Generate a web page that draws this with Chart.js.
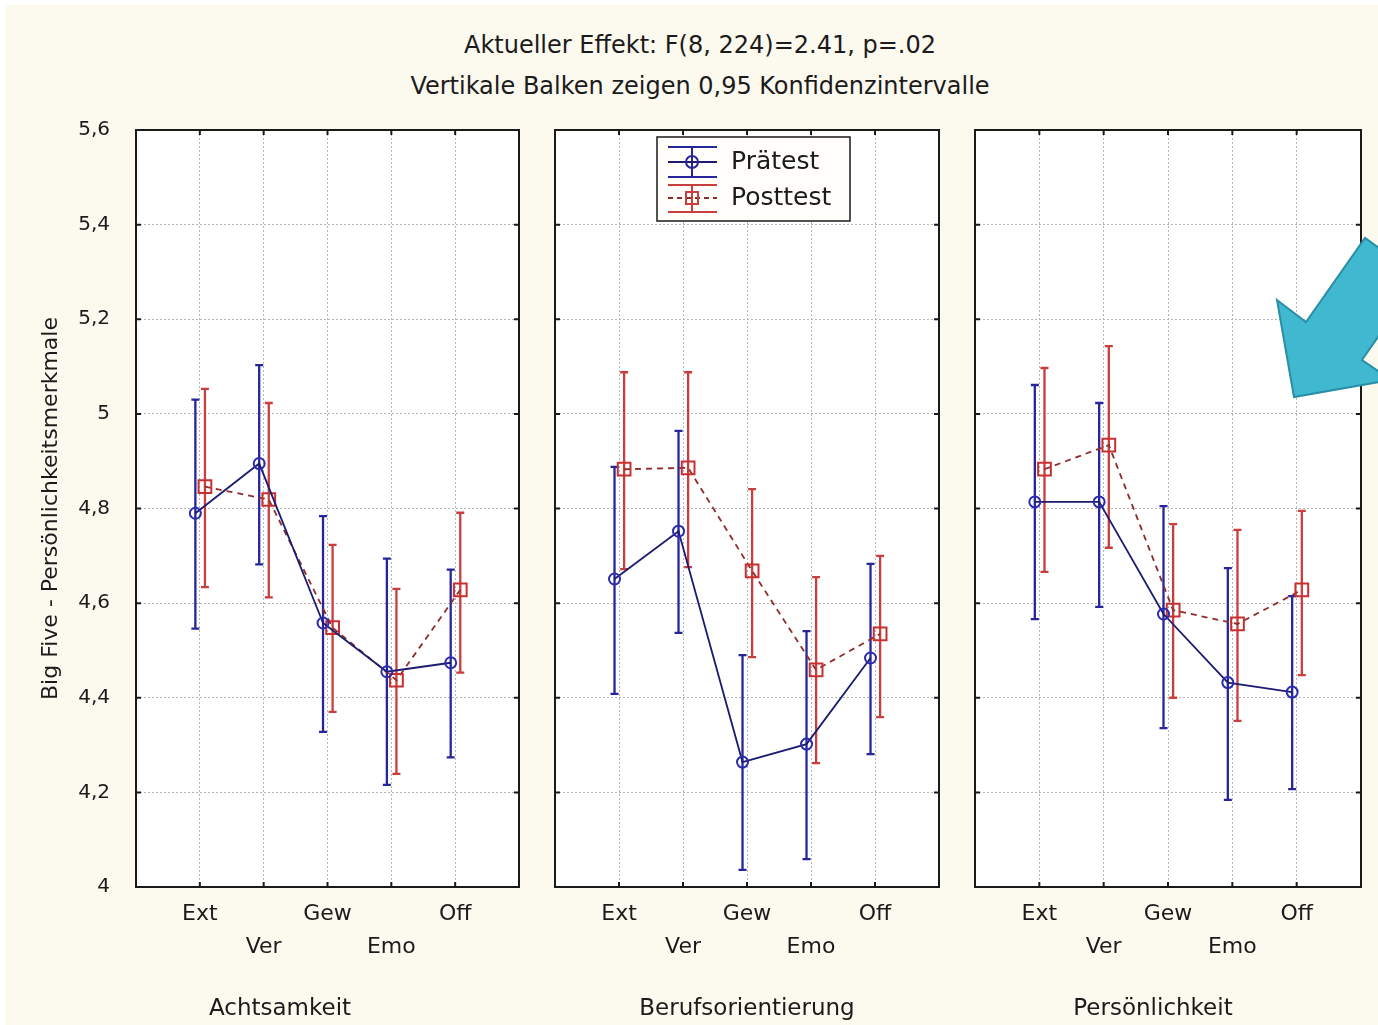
<!DOCTYPE html>
<html lang="de">
<head>
<meta charset="utf-8">
<title>Big Five - Persönlichkeitsmerkmale</title>
<script src="https://cdn.jsdelivr.net/npm/chart.js@4.4.1/dist/chart.umd.min.js"></script>
<style>
  html, body { margin: 0; padding: 0; }
  body {
    width: 1378px; height: 1025px; position: relative; overflow: hidden;
    background: #ffffff; font-family: "DejaVu Sans", sans-serif; color: #1b1b1b;
  }
  #paper { position: absolute; left: 5px; top: 5px; right: 0; bottom: 0; background: #fcf9ef; }
  canvas { position: absolute; top: 0; }
  .title { position: absolute; left: 0; width: 1400px; text-align: center; font-size: 24px; line-height: 30px; }
  .group { position: absolute; top: 992px; font-size: 23px; line-height: 30px; transform: translateX(-50%); white-space: nowrap; }
  #arrow { position: absolute; left: 0; top: 0; }
</style>
</head>
<body>
<div id="paper"></div>
<div class="title" style="top:30px">Aktueller Effekt: F(8, 224)=2.41, p=.02</div>
<div class="title" style="top:71px">Vertikale Balken zeigen 0,95 Konfidenzintervalle</div>

<canvas id="panel0" width="530" height="1025" style="left:0px"></canvas>
<canvas id="panel1" width="420" height="1025" style="left:530px"></canvas>
<canvas id="panel2" width="428" height="1025" style="left:950px"></canvas>

<div class="group" style="left:280px">Achtsamkeit</div>
<div class="group" style="left:747px">Berufsorientierung</div>
<div class="group" style="left:1153px">Persönlichkeit</div>

<svg id="arrow" width="1378" height="1025">
  <polygon points="1294,397 1277,300 1306,322 1365,238 1420,277 1362,360 1391,380"
           fill="#40b8d0" stroke="#2a8ea4" stroke-width="2" stroke-linejoin="miter"/>
</svg>

<script>
const categories = ["Ext", "Ver", "Gew", "Emo", "Off"];
const groups = ["Achtsamkeit", "Berufsorientierung", "Persönlichkeit"];
const seriesNames = ["Prätest", "Posttest"];

// Achtsamkeit
const preMean1 = [4.79, 4.895, 4.558, 4.455, 4.474];
const preLow1 = [4.546, 4.682, 4.328, 4.216, 4.274];
const preHigh1 = [5.03, 5.103, 4.784, 4.694, 4.671];
const postMean1 = [4.846, 4.819, 4.548, 4.437, 4.628];
const postLow1 = [4.634, 4.612, 4.37, 4.239, 4.453];
const postHigh1 = [5.053, 5.023, 4.723, 4.63, 4.791];

// Berufsorientierung
const preMean2 = [4.651, 4.752, 4.264, 4.302, 4.484];
const preLow2 = [4.408, 4.537, 4.036, 4.059, 4.281];
const preHigh2 = [4.888, 4.964, 4.49, 4.541, 4.683];
const postMean2 = [4.883, 4.886, 4.668, 4.459, 4.535];
const postLow2 = [4.672, 4.676, 4.486, 4.262, 4.359];
const postHigh2 = [5.088, 5.088, 4.841, 4.655, 4.7];

// Persönlichkeit
const preMean3 = [4.814, 4.814, 4.577, 4.432, 4.412];
const preLow3 = [4.566, 4.592, 4.336, 4.184, 4.207];
const preHigh3 = [5.061, 5.023, 4.805, 4.674, 4.615];
const postMean3 = [4.883, 4.934, 4.585, 4.556, 4.628];
const postLow3 = [4.666, 4.717, 4.4, 4.351, 4.448];
const postHigh3 = [5.097, 5.143, 4.767, 4.755, 4.795];

const yMin = 4;
const yMax = 5.6;
const yStep = 0.2;

const panels = [
  { pre: [preMean1, preLow1, preHigh1], post: [postMean1, postLow1, postHigh1] },
  { pre: [preMean2, preLow2, preHigh2], post: [postMean2, postLow2, postHigh2] },
  { pre: [preMean3, preLow3, preHigh3], post: [postMean3, postLow3, postHigh3] }
];

const FONT = "'DejaVu Sans', sans-serif";
const TEXT = "#1b1b1b";
const GRID = "#b5b5b5";
const PRE_BAR = "#26269a";
const PRE_LINE = "#1b1b72";
const POST_BAR = "#c93e3e";
const POST_LINE = "#8f2c2c";
const PRE_SHIFT = -0.07;
const POST_SHIFT = 0.08;

function fmt(v) {
  return String(Math.round(v * 10) / 10).replace(".", ",");
}

// white plot area, black frame and the small inner ticks
const frame = {
  id: "frame",
  beforeDraw(chart) {
    const a = chart.chartArea;
    const ctx = chart.ctx;
    ctx.save();
    ctx.fillStyle = "#ffffff";
    ctx.fillRect(a.left, a.top, a.right - a.left, a.bottom - a.top);
    ctx.restore();
  },
  afterDatasetsDraw(chart) {
    const a = chart.chartArea;
    const ctx = chart.ctx;
    const xs = chart.scales.x;
    const ys = chart.scales.y;
    ctx.save();
    ctx.strokeStyle = "#1a1a1a";
    ctx.lineWidth = 2;
    ctx.strokeRect(a.left, a.top, a.right - a.left, a.bottom - a.top);
    ctx.beginPath();
    xs.ticks.forEach((t) => {
      const x = xs.getPixelForValue(t.value);
      ctx.moveTo(x, a.top); ctx.lineTo(x, a.top + 5);
      ctx.moveTo(x, a.bottom); ctx.lineTo(x, a.bottom - 5);
    });
    ys.ticks.forEach((t) => {
      const y = ys.getPixelForValue(t.value);
      ctx.moveTo(a.left, y); ctx.lineTo(a.left + 5, y);
      ctx.moveTo(a.right, y); ctx.lineTo(a.right - 5, y);
    });
    ctx.stroke();
    ctx.restore();
  }
};

// vertical confidence bars
const errorBars = {
  id: "errorBars",
  beforeDatasetsDraw(chart) {
    const ctx = chart.ctx;
    const xs = chart.scales.x;
    const ys = chart.scales.y;
    chart.data.datasets.forEach((ds) => {
      ctx.save();
      ctx.strokeStyle = ds.barColor;
      ctx.lineWidth = 2.3;
      ctx.beginPath();
      ds.data.forEach((p, i) => {
        const x = xs.getPixelForValue(p.x);
        const y1 = ys.getPixelForValue(ds.low[i]);
        const y2 = ys.getPixelForValue(ds.high[i]);
        ctx.moveTo(x, y1); ctx.lineTo(x, y2);
        ctx.moveTo(x - 4, y1); ctx.lineTo(x + 4, y1);
        ctx.moveTo(x - 4, y2); ctx.lineTo(x + 4, y2);
      });
      ctx.stroke();
      ctx.restore();
    });
  }
};

// legend box inside the middle panel
const legendBox = {
  id: "legendBox",
  afterDraw(chart) {
    if (!chart.options.plugins.legendBox.show) return;
    const ctx = chart.ctx;
    const a = chart.chartArea;
    const bx = a.left + 102;
    const by = a.top + 7;
    const bw = 193;
    const bh = 84;
    ctx.save();
    ctx.fillStyle = "#fffefa";
    ctx.fillRect(bx, by, bw, bh);
    ctx.strokeStyle = "#1a1a1a";
    ctx.lineWidth = 1.5;
    ctx.strokeRect(bx, by, bw, bh);

    const rows = [
      { name: seriesNames[0], line: PRE_LINE, bar: PRE_BAR, top: 10, mid: 25, bottom: 40, dash: [], style: "circle" },
      { name: seriesNames[1], line: POST_LINE, bar: POST_BAR, top: 48, mid: 61, bottom: 75, dash: [5, 4], style: "rect" }
    ];
    const x0 = bx + 11;
    const x1 = bx + 60;
    const cx = bx + 35;
    rows.forEach((r) => {
      ctx.strokeStyle = r.bar;
      ctx.lineWidth = 2;
      ctx.setLineDash([]);
      ctx.beginPath();
      ctx.moveTo(x0, by + r.top); ctx.lineTo(x1, by + r.top);
      ctx.moveTo(x0, by + r.bottom); ctx.lineTo(x1, by + r.bottom);
      ctx.moveTo(cx, by + r.top); ctx.lineTo(cx, by + r.bottom);
      ctx.stroke();
      ctx.strokeStyle = r.line;
      ctx.lineWidth = 1.8;
      ctx.setLineDash(r.dash);
      ctx.beginPath();
      ctx.moveTo(x0, by + r.mid); ctx.lineTo(x1, by + r.mid);
      ctx.stroke();
      ctx.setLineDash([]);
      ctx.strokeStyle = r.bar;
      ctx.lineWidth = 2;
      ctx.beginPath();
      if (r.style === "circle") {
        ctx.arc(cx, by + r.mid, 6, 0, Math.PI * 2);
      } else {
        ctx.rect(cx - 6, by + r.mid - 6, 12, 12);
      }
      ctx.stroke();
      ctx.fillStyle = TEXT;
      ctx.font = "25px " + FONT;
      ctx.textBaseline = "middle";
      ctx.fillText(r.name, bx + 74, by + r.mid);
    });
    ctx.restore();
  }
};

function makePanel(id, index) {
  const p = panels[index];
  const first = index === 0;
  const el = document.getElementById(id);
  const rightPad = index === 2 ? 17 : 9;

  return new Chart(el, {
    type: "line",
    data: {
      datasets: [
        {
          label: seriesNames[0],
          data: categories.map((c, i) => ({ x: i + 1 + PRE_SHIFT, y: p.pre[0][i] })),
          low: p.pre[1],
          high: p.pre[2],
          barColor: PRE_BAR,
          borderColor: PRE_LINE,
          borderWidth: 1.8,
          pointStyle: "circle",
          pointRadius: 5.5,
          pointBorderWidth: 2,
          pointBorderColor: "#2b2bb0",
          pointBackgroundColor: "rgba(255,255,255,0)",
          tension: 0
        },
        {
          label: seriesNames[1],
          data: categories.map((c, i) => ({ x: i + 1 + POST_SHIFT, y: p.post[0][i] })),
          low: p.post[1],
          high: p.post[2],
          barColor: POST_BAR,
          borderColor: POST_LINE,
          borderWidth: 1.8,
          borderDash: [6, 5],
          pointStyle: "rect",
          pointRadius: 9,
          pointBorderWidth: 2,
          pointBorderColor: "#c83030",
          pointBackgroundColor: "rgba(255,255,255,0)",
          tension: 0
        }
      ]
    },
    options: {
      responsive: false,
      animation: false,
      devicePixelRatio: 1,
      layout: { padding: { left: 0, right: rightPad, top: 130, bottom: 0 } },
      plugins: {
        legend: { display: false },
        tooltip: { enabled: false },
        legendBox: { show: index === 1 }
      },
      scales: {
        x: {
          type: "linear",
          min: 0,
          max: 6,
          afterBuildTicks: (s) => {
            s.ticks = categories.map((c, i) => ({ value: i + 1 }));
          },
          ticks: {
            autoSkip: false,
            maxRotation: 0,
            padding: 11,
            color: TEXT,
            font: { family: FONT, size: 22, lineHeight: 1.5 },
            callback: (v, i) => (i % 2 === 1 ? ["", categories[i]] : categories[i])
          },
          grid: { color: GRID, lineWidth: 1, drawTicks: false },
          border: { display: false, dash: [2, 2] },
          afterFit: (s) => { s.height = 138; }
        },
        y: {
          min: yMin,
          max: yMax,
          ticks: {
            stepSize: yStep,
            display: first,
            padding: 26,
            color: TEXT,
            font: { family: FONT, size: 20 },
            callback: (v) => fmt(v)
          },
          grid: { color: GRID, lineWidth: 1, drawTicks: false },
          border: { display: false, dash: [2, 2] },
          title: {
            display: first,
            text: "Big Five - Persönlichkeitsmerkmale",
            color: TEXT,
            font: { family: FONT, size: 22 },
            padding: { top: 38, bottom: 0 }
          },
          afterFit: (s) => { s.width = first ? 136 : 25; }
        }
      }
    },
    plugins: [frame, errorBars, legendBox]
  });
}

makePanel("panel0", 0);
makePanel("panel1", 1);
makePanel("panel2", 2);
</script>
</body>
</html>
